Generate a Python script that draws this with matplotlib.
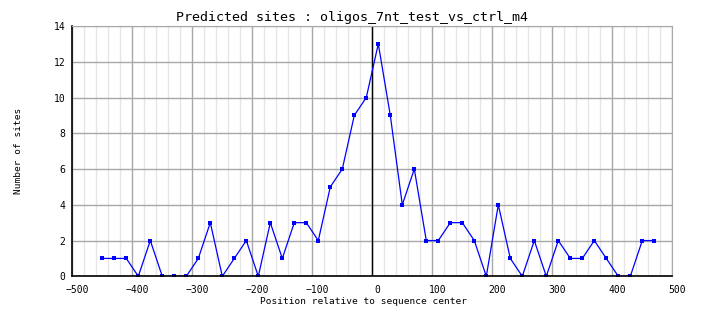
import matplotlib
matplotlib.use("Agg")
import matplotlib.pyplot as plt
import matplotlib.transforms as mtransforms
from matplotlib.ticker import MultipleLocator

# positions des fenetres (centre)
positions = list(range(-450, 471, 20))
sites = [1, 1, 1, 0, 2, 0, 0, 0, 1, 3, 0, 1, 2, 0, 3, 1, 3, 3, 2, 5, 6, 9, 10, 13,
         9, 4, 6, 2, 2, 3, 3, 2, 0, 4, 1, 0, 2, 0, 2, 1, 1, 2, 1, 0, 0, 2, 2]

titre = "Predicted sites : oligos_7nt_test_vs_ctrl_m4"
xlabel = "Position relative to sequence center"
ylabel = "Number of sites"

plt.rcParams['font.family'] = 'DejaVu Sans Mono'

fig = plt.figure(figsize=(7.04, 3.28), dpi=100)
ax = fig.add_axes([72.3 / 704, 1 - 276.3 / 328, 600 / 704, 250.3 / 328])

ax.set_xlim(-500, 500)
ax.set_ylim(0, 14)
ax.xaxis.set_major_locator(MultipleLocator(100))
ax.xaxis.set_minor_locator(MultipleLocator(20))
ax.yaxis.set_major_locator(MultipleLocator(2))

ax.grid(True, which='major', color='#a8a8a8', linewidth=1.0)
ax.grid(True, which='minor', axis='x', color='#e6e6e6', linewidth=1.0)
ax.set_axisbelow(True)

ax.axvline(0, color='black', linewidth=1.0)
ax.plot(positions, sites, color='#0000ff', linewidth=0.9,
        marker='s', markersize=2.6, markeredgewidth=0)

for s in ['top', 'right']:
    ax.spines[s].set_color('#a8a8a8')
for s in ['left', 'bottom']:
    ax.spines[s].set_color('black')
    ax.spines[s].set_linewidth(1.2)

ax.tick_params(which='both', length=0, labelsize=7, pad=5)
ax.tick_params(axis='x', pad=6)
offset = mtransforms.ScaledTranslation(5 / 100, 0, fig.dpi_scale_trans)
for lab in ax.get_xticklabels():
    lab.set_transform(lab.get_transform() + offset)

# titre et label x centres sur la figure, pas sur les axes
fig.text(352 / 704, 1 - 17 / 328, titre, fontsize=9.6, ha='center', va='center')
fig.text(363 / 704, 1 - 302 / 328, xlabel, fontsize=6.8, ha='center', va='center')
ax.set_ylabel(ylabel, fontsize=6.8, labelpad=22)

fig.savefig("out.png", dpi=100)
